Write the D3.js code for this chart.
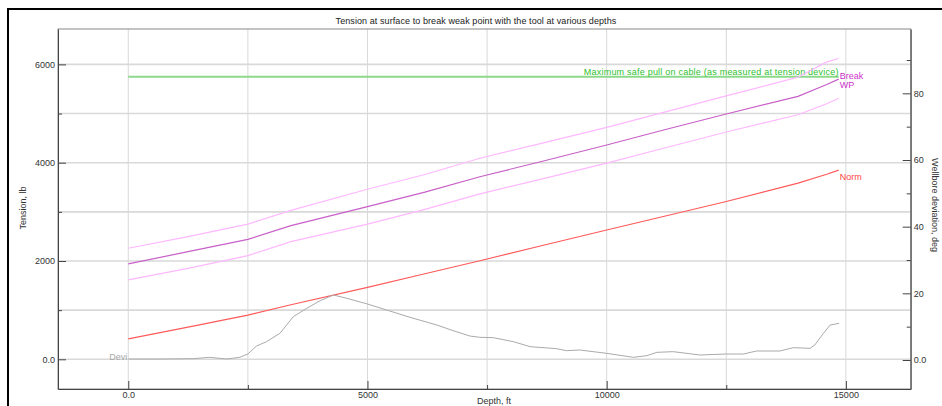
<!DOCTYPE html>
<html>
<head>
<meta charset="utf-8">
<script src="https://cdn.jsdelivr.net/npm/d3@7"></script>
<style>
	body { margin: 0; background: #fff; }
	svg { display: block; font-family: "Liberation Sans", Arial, sans-serif; }
	.axis path, .axis line { stroke: #444; }
	.axis text { fill: #333; font-size: 9px; }
	.grid line { stroke: #d9d9d9; }
</style>
</head>
<body>
<script>
// depth grid for the tension curves, ft
var depths = [0, 1250, 2500, 3400, 5000, 6200, 7350, 8700, 10000, 11250, 12500, 14000, 14600, 14850];
// tension at surface, lb
var breakHigh = [2260, 2495, 2750, 3030, 3460, 3760, 4090, 4410, 4720, 5040, 5360, 5740, 6050, 6120];
var breakWP = [1940, 2190, 2440, 2720, 3105, 3400, 3715, 4040, 4360, 4680, 4990, 5350, 5590, 5700];
var breakLow = [1615, 1850, 2110, 2395, 2750, 3050, 3365, 3680, 3990, 4310, 4625, 4975, 5200, 5310];
var norm = [415, 655, 900, 1110, 1465, 1740, 2005, 2325, 2630, 2920, 3210, 3585, 3765, 3850];

// max safe pull
var maxPull = 5750;
var maxPullDepths = [0, 14850];

// wellbore deviation, deg
var deviDepths = [0, 660, 1360, 1700, 2060, 2330, 2500, 2680, 2890, 3170, 3450, 3730, 4010, 4290, 4570, 5000,
	5400, 5890, 6450, 6790, 7140, 7350, 7630, 8050, 8400, 8950, 9160, 9440, 10000, 10560, 10840, 11050,
	11390, 11950, 12490, 12860, 13130, 13620, 13900, 14250, 14350, 14530, 14670, 14860];
var devi = [0.3, 0.3, 0.4, 0.8, 0.3, 0.8, 1.8, 4.2, 5.5, 8, 13, 15.5, 17.8, 19.5, 18.5, 16.8,
	15, 12.8, 10.5, 8.8, 7.2, 6.8, 6.7, 5.5, 4, 3.4, 2.8, 3, 2, 0.8, 1.3, 2.3,
	2.5, 1.5, 1.8, 1.8, 2.7, 2.7, 3.7, 3.5, 4.5, 8, 10.5, 11];

// ticks
var xMajor = [0, 5000, 10000, 15000],
	xMinor = [2500, 7500, 12500],
	tMajor = [0, 2000, 4000, 6000],
	tMinor = [1000, 3000, 5000],
	dMajor = [0, 20, 40, 60, 80],
	dMinor = [10, 30, 50, 70, 90];

window.onload = drawChart();

function drawChart(){

	var width = 942,
		height = 406;

	var left = 58, right = 910.7, top = 29, bottom = 389;

	var svg = d3.select("body")
		.append("svg")
		.attr("width", width)
		.attr("height", height);

	// scales
	var x = d3.scaleLinear().domain([-1469, 16355]).range([left, right]);
	var yT = d3.scaleLinear().domain([-604, 6720]).range([bottom, top]);
	var yD = d3.scaleLinear().domain([-8.7, 99.3]).range([bottom, top]);

	var fmt = function(d){ return d === 0 ? "0.0" : String(d); };

	// outer black frame
	svg.append("path")
		.attr("d", "M8,406 L8,9 L942,9")
		.attr("fill", "none")
		.attr("stroke", "#000")
		.attr("stroke-width", 2);

	// title
	svg.append("text")
		.attr("x", 476)
		.attr("y", 23.5)
		.attr("text-anchor", "middle")
		.attr("font-size", 9)
		.attr("letter-spacing", 0.08)
		.attr("fill", "#222")
		.text("Tension at surface to break weak point with the tool at various depths");

	// grid lines
	var grid = svg.append("g").attr("class", "grid");
	grid.selectAll(".h")
		.data(tMajor.concat(tMinor))
		.enter()
		.append("line")
		.attr("x1", left).attr("x2", right)
		.attr("y1", function(d){ return yT(d); })
		.attr("y2", function(d){ return yT(d); })
		.attr("stroke-width", 1.6);
	grid.selectAll(".v")
		.data(xMajor.concat(xMinor))
		.enter()
		.append("line")
		.attr("y1", top).attr("y2", bottom)
		.attr("x1", function(d){ return x(d); })
		.attr("x2", function(d){ return x(d); })
		.attr("stroke", "#cbcbcb");

	// plot frame
	svg.append("rect")
		.attr("x", left).attr("y", top)
		.attr("width", right - left).attr("height", bottom - top)
		.attr("fill", "none")
		.attr("stroke", "#888");

	// axes, ticks pointing inward
	svg.append("g").attr("class", "axis")
		.attr("transform", "translate(0," + bottom + ")")
		.call(d3.axisBottom(x).tickValues(xMajor).tickSizeInner(-8).tickSizeOuter(0).tickPadding(3).tickFormat(fmt));
	svg.append("g").attr("class", "axis")
		.attr("transform", "translate(0," + bottom + ")")
		.call(d3.axisBottom(x).tickValues(xMinor).tickSizeInner(-4).tickSizeOuter(0).tickFormat(""))
		.select(".domain").remove();

	svg.append("g").attr("class", "axis")
		.attr("transform", "translate(" + left + ",0)")
		.call(d3.axisLeft(yT).tickValues(tMajor).tickSizeInner(-8).tickSizeOuter(0).tickPadding(3).tickFormat(fmt));
	svg.append("g").attr("class", "axis")
		.attr("transform", "translate(" + left + ",0)")
		.call(d3.axisLeft(yT).tickValues(tMinor).tickSizeInner(-4).tickSizeOuter(0).tickFormat(""))
		.select(".domain").remove();

	svg.append("g").attr("class", "axis")
		.attr("transform", "translate(" + right + ",0)")
		.call(d3.axisRight(yD).tickValues(dMajor).tickSizeInner(-8).tickSizeOuter(0).tickPadding(3).tickFormat(fmt));
	svg.append("g").attr("class", "axis")
		.attr("transform", "translate(" + right + ",0)")
		.call(d3.axisRight(yD).tickValues(dMinor).tickSizeInner(-4).tickSizeOuter(0).tickFormat(""))
		.select(".domain").remove();

	// axis titles
	svg.append("text")
		.attr("transform", "translate(26,208) rotate(-90)")
		.attr("text-anchor", "middle")
		.attr("font-size", 9)
		.attr("fill", "#333")
		.text("Tension, lb");
	svg.append("text")
		.attr("transform", "translate(932,205) rotate(90)")
		.attr("text-anchor", "middle")
		.attr("font-size", 9)
		.attr("fill", "#333")
		.text("Wellbore deviation, deg");
	svg.append("text")
		.attr("x", 494)
		.attr("y", 404)
		.attr("text-anchor", "middle")
		.attr("font-size", 9)
		.attr("fill", "#333")
		.text("Depth, ft");

	// line generators
	var tLine = d3.line()
		.x(function(d){ return x(d[0]); })
		.y(function(d){ return yT(d[1]); });
	var dLine = d3.line()
		.x(function(d){ return x(d[0]); })
		.y(function(d){ return yD(d[1]); });

	function pairs(xs, ys){
		return xs.map(function(v, i){ return [v, ys[i]]; });
	}

	// max safe pull
	svg.append("path")
		.datum(maxPullDepths.map(function(d){ return [d, maxPull]; }))
		.attr("d", tLine)
		.attr("fill", "none")
		.attr("stroke", "#8bd98b")
		.attr("stroke-width", 2);
	svg.append("text")
		.attr("x", x(14850))
		.attr("y", yT(maxPull) - 2)
		.attr("text-anchor", "end")
		.attr("font-size", 9)
		.attr("letter-spacing", 0.22)
		.attr("fill", "#2fbf2f")
		.text("Maximum safe pull on cable (as measured at tension device)");

	// tension curves
	var series = [
		{ vals: breakHigh, color: "#ffb8ff" },
		{ vals: breakLow, color: "#ffb8ff" },
		{ vals: breakWP, color: "#c860c8" },
		{ vals: norm, color: "#ff5a5a" }
	];
	series.forEach(function(s){
		svg.append("path")
			.datum(pairs(depths, s.vals))
			.attr("d", tLine)
			.attr("fill", "none")
			.attr("stroke", s.color)
			.attr("stroke-width", 1.2);
	});

	// deviation
	svg.append("path")
		.datum(pairs(deviDepths, devi))
		.attr("d", dLine)
		.attr("fill", "none")
		.attr("stroke", "#aaaaaa")
		.attr("stroke-width", 1);

	// curve labels
	var lx = x(14850) + 1;
	svg.append("text").attr("x", lx).attr("y", 79).attr("font-size", 9).attr("fill", "#cc33cc").text("Break");
	svg.append("text").attr("x", lx).attr("y", 87.5).attr("font-size", 9).attr("fill", "#cc33cc").text("WP");
	svg.append("text").attr("x", lx).attr("y", 179.5).attr("font-size", 9).attr("fill", "#ff4444").text("Norm");
	svg.append("text").attr("x", x(0) - 1).attr("y", 360).attr("text-anchor", "end")
		.attr("font-size", 9).attr("fill", "#a8a8a8").text("Devi");
};
</script>
</body>
</html>
